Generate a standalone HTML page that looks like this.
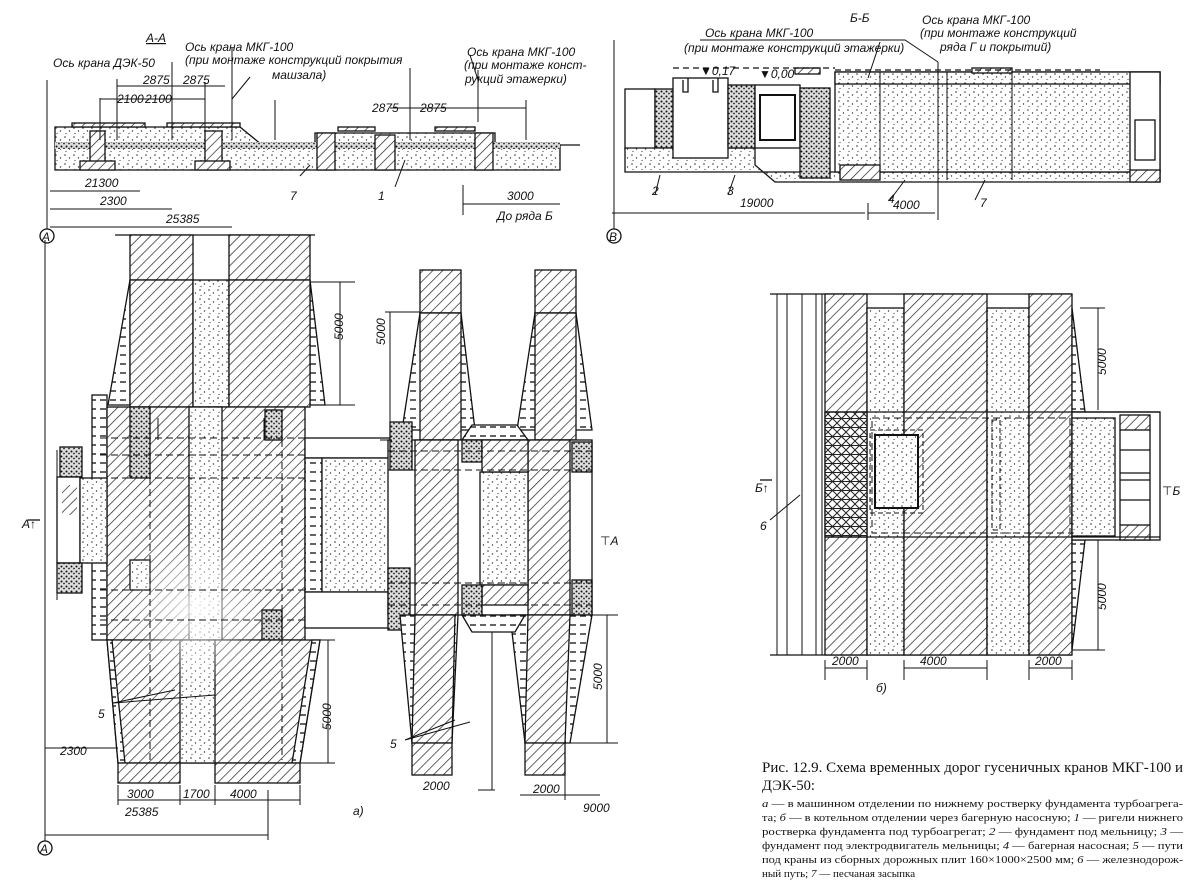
<!DOCTYPE html>
<html><head><meta charset="utf-8">
<style>
html,body{margin:0;padding:0;background:#fff;}
svg{display:block;}
.l{font-family:"Liberation Sans","DejaVu Sans",sans-serif;font-style:italic;font-size:12px;fill:#111;stroke:none;}
.c{font-family:"Liberation Serif","DejaVu Serif",serif;fill:#111;stroke:none;}
</style></head><body>
<svg width="1193" height="881" viewBox="0 0 1193 881" xmlns="http://www.w3.org/2000/svg">
<defs>
<pattern id="h" width="7" height="7" patternUnits="userSpaceOnUse" patternTransform="rotate(45)">
<rect width="7" height="7" fill="#fff"/><line x1="0" y1="0" x2="0" y2="7" stroke="#222" stroke-width="1.4"/></pattern>
<pattern id="d" width="9" height="9" patternUnits="userSpaceOnUse">
<rect width="9" height="9" fill="#fff"/><circle cx="2" cy="2" r=".8" fill="#333"/><circle cx="6.5" cy="5" r=".7" fill="#333"/><circle cx="3" cy="7.5" r=".6" fill="#444"/></pattern>
<pattern id="dd" width="5" height="5" patternUnits="userSpaceOnUse">
<rect width="5" height="5" fill="#ddd"/><circle cx="1.5" cy="1.5" r="1" fill="#111"/><circle cx="4" cy="3.5" r=".9" fill="#222"/></pattern>
<pattern id="x" width="9" height="9" patternUnits="userSpaceOnUse">
<rect width="9" height="9" fill="#fff"/><path d="M0 0L9 9M9 0L0 9M0 4.5H9" stroke="#222" stroke-width="1"/></pattern>
<pattern id="t" width="10" height="9" patternUnits="userSpaceOnUse">
<rect width="10" height="9" fill="#fff"/><line x1="0" y1="4" x2="6" y2="4" stroke="#222" stroke-width="1.4"/></pattern>
<radialGradient id="fade"><stop offset="0" stop-color="#fff" stop-opacity=".85"/><stop offset="1" stop-color="#fff" stop-opacity="0"/></radialGradient>
</defs>
<g stroke="#111" stroke-width="1.3">

<!-- ===== Section A-A ===== -->
<path d="M55 127H240L262 145H315V133H495V145H560V170H55Z" fill="url(#d)"/>
<rect x="55" y="142" width="505" height="7" fill="url(#dd)" stroke="none"/>
<g fill="url(#h)">
<rect x="90" y="131" width="15" height="34"/><rect x="205" y="131" width="17" height="34"/>
<rect x="317" y="133" width="18" height="37"/><rect x="375" y="135" width="20" height="35"/><rect x="475" y="133" width="18" height="37"/>
<rect x="80" y="161" width="35" height="9"/><rect x="195" y="161" width="35" height="9"/>
<rect x="72" y="123" width="73" height="4"/><rect x="167" y="123" width="73" height="4"/>
<rect x="338" y="127" width="37" height="4"/><rect x="435" y="127" width="40" height="4"/>
</g>
<path d="M560 145H580" />
<g fill="none" stroke-width="1">
<path d="M47 80V240M172 140V62M205 140V82M232 140V48M275 140V100M100 140V98M117 140V85M478 122V70M410 140V68M526 140V100"/>
<path d="M117 86H225M100 99H172M172 99H205M117 79V90"/>
<path d="M390 108H478M478 108H526"/>
<path d="M50 191H140M50 209H172M50 227H232M463 204H560M463 185V215"/>
<path d="M250 77L232 99M470 55L478 80"/>
<path d="M300 176L310 165M395 187L405 160"/>
</g>
<text x="146" y="42" class="l" font-size="14" text-decoration="underline">А-А</text>
<text x="53" y="67" class="l" font-size="12">Ось крана  ДЭК-50</text>
<text x="185" y="51" class="l">Ось крана  МКГ-100</text>
<text x="185" y="64" class="l">(при монтаже конструкций покрытия</text>
<text x="272" y="79" class="l">машзала)</text>
<text x="467" y="56" class="l">Ось крана  МКГ-100</text>
<text x="464" y="69" class="l">(при монтаже конст-</text>
<text x="465" y="83" class="l">рукций этажерки)</text>
<text x="143" y="84" class="l">2875</text><text x="183" y="84" class="l">2875</text>
<text x="117" y="103" class="l">2100</text><text x="145" y="103" class="l">2100</text>
<text x="372" y="112" class="l">2875</text><text x="420" y="112" class="l">2875</text>
<text x="85" y="187" class="l">21300</text><text x="100" y="205" class="l">2300</text><text x="166" y="223" class="l">25385</text>
<text x="290" y="200" class="l" font-size="14">7</text><text x="378" y="200" class="l" font-size="14">1</text>
<text x="507" y="200" class="l">3000</text><text x="497" y="220" class="l">До ряда  Б</text>
<circle cx="47" cy="236" r="7" fill="#fff"/><text x="42" y="241" class="l" font-size="11">А</text>

<!-- ===== Section Б-Б ===== -->
<rect x="625" y="89" width="30" height="60" fill="#fff"/>
<rect x="655" y="89" width="18" height="59" fill="url(#dd)"/>
<path d="M625 148H755V165L775 182H1160V172H625Z" fill="url(#d)"/>
<rect x="673" y="78" width="55" height="80" fill="#fff"/>
<path d="M683 80V92H688V78M718 78V92H713V80" fill="none"/>
<rect x="728" y="85" width="27" height="63" fill="url(#dd)"/>
<rect x="755" y="85" width="45" height="63" fill="#fff"/>
<rect x="760" y="95" width="35" height="45" fill="#fff" stroke-width="2"/>
<rect x="800" y="88" width="30" height="90" fill="url(#dd)"/>
<rect x="835" y="72" width="325" height="100" fill="url(#d)"/>
<rect x="835" y="72" width="325" height="12" fill="url(#d)"/>
<rect x="1130" y="72" width="30" height="100" fill="#fff"/>
<rect x="1135" y="120" width="20" height="40" fill="#fff"/>
<rect x="840" y="165" width="40" height="15" fill="url(#h)"/>
<rect x="1130" y="170" width="30" height="12" fill="url(#h)"/>
<path d="M880 72V180M947 72V180M1012 72V180" fill="none" stroke-width="1"/>
<rect x="795" y="68" width="25" height="6" fill="url(#h)"/><rect x="972" y="68" width="40" height="5" fill="url(#h)"/>
<path d="M673 68H835M835 70H1100" fill="none" stroke-dasharray="6 4"/>
<g fill="none" stroke-width="1">
<path d="M614 40V240M612 213H865M868 213H935M868 203V220M938 62V220M868 40H905L938 62"/>
<path d="M700 40H880M880 42L868 78M655 195L660 175M728 195L735 175M890 200L905 180M975 200L985 180"/>
<path d="M793 40H830"/>
</g>
<text x="850" y="22" class="l" font-size="14">Б-Б</text>
<text x="705" y="37" class="l">Ось крана  МКГ-100</text>
<text x="684" y="52" class="l">(при монтаже конструкций этажерки)</text>
<text x="922" y="24" class="l">Ось крана  МКГ-100</text>
<text x="920" y="37" class="l">(при монтаже конструкций</text>
<text x="940" y="51" class="l">ряда Г и покрытий)</text>
<text x="700" y="75" class="l" font-size="10">▼0,17</text><text x="759" y="78" class="l" font-size="10">▼0,00</text>
<text x="652" y="195" class="l" font-size="14">2</text><text x="727" y="195" class="l" font-size="14">3</text>
<text x="888" y="203" class="l" font-size="14">4</text><text x="980" y="207" class="l" font-size="14">7</text>
<text x="740" y="207" class="l">19000</text><text x="893" y="209" class="l">4000</text>
<circle cx="614" cy="236" r="7" fill="#fff"/><text x="609" y="241" class="l" font-size="11">В</text>

<!-- ===== Plan a) left ===== -->
<path d="M115 235H315" fill="none"/>
<rect x="130" y="235" width="63" height="45" fill="url(#h)"/>
<rect x="229" y="235" width="81" height="45" fill="url(#h)"/>
<path d="M130 280L108 405H130Z" fill="url(#t)"/>
<path d="M310 280L325 405H310Z" fill="url(#t)"/>
<rect x="130" y="280" width="63" height="127" fill="url(#h)"/>
<rect x="193" y="280" width="36" height="127" fill="url(#d)"/>
<rect x="229" y="280" width="81" height="127" fill="url(#h)"/>
<rect x="92" y="395" width="15" height="245" fill="url(#t)"/>
<rect x="107" y="407" width="198" height="233" fill="url(#h)"/>
<rect x="189" y="407" width="33" height="233" fill="url(#d)"/>
<rect x="130" y="407" width="20" height="71" fill="url(#dd)"/>
<rect x="265" y="410" width="17" height="30" fill="url(#dd)"/>
<rect x="262" y="610" width="20" height="30" fill="url(#dd)"/>
<rect x="130" y="560" width="20" height="30" fill="url(#d)"/>
<rect x="60" y="447" width="22" height="30" fill="url(#dd)"/>
<rect x="57" y="477" width="23" height="86" fill="#fff"/>
<rect x="62" y="485" width="15" height="30" fill="url(#h)" stroke="none"/>
<rect x="80" y="478" width="27" height="85" fill="url(#d)"/>
<rect x="57" y="563" width="25" height="30" fill="url(#dd)"/>
<rect x="305" y="438" width="87" height="20" fill="#fff"/>
<rect x="305" y="458" width="17" height="134" fill="url(#t)"/>
<rect x="322" y="458" width="68" height="134" fill="url(#d)"/>
<rect x="305" y="592" width="87" height="36" fill="#fff"/>
<path d="M107 640H320L300 763H118Z" fill="url(#h)"/>
<path d="M107 640L118 763H125L112 640Z" fill="url(#t)"/>
<path d="M320 640L300 763H292L312 640Z" fill="url(#t)"/>
<rect x="180" y="640" width="35" height="123" fill="url(#d)"/>
<rect x="118" y="763" width="62" height="20" fill="url(#h)"/>
<rect x="215" y="763" width="85" height="20" fill="url(#h)"/>
<ellipse cx="195" cy="610" rx="70" ry="80" fill="url(#fade)" stroke="none"/>
<g fill="none" stroke-width="1" stroke-dasharray="7 4">
<path d="M100 438H305M100 455H305M100 478H305M100 590H305M100 620H305M150 478V760M282 440V760"/>
</g>
<g fill="none" stroke-width="1">
<path d="M310 282H355M340 282V405M310 405H355M45 240V845M45 748H118M45 835H268M118 785V805M180 785V805M215 785V805M300 785V805M118 800H300M268 790V840"/>
<path d="M320 640H335M328 640V763M300 763H335"/>
<path d="M113 703L175 690M113 703L215 695M57 450V600"/>
<path d="M158 440V418M264 440V418"/>
</g>
<text x="343" y="340" class="l" transform="rotate(-90 343 340)" font-size="12">5000</text>
<text x="331" y="730" class="l" transform="rotate(-90 331 730)">5000</text>
<text x="98" y="718" class="l" font-size="13">5</text>
<text x="60" y="755" class="l">2300</text>
<text x="127" y="798" class="l">3000</text><text x="183" y="798" class="l">1700</text><text x="230" y="798" class="l">4000</text>
<text x="125" y="816" class="l">25385</text>
<text x="353" y="815" class="l" font-size="14">а)</text>
<text x="22" y="528" class="l" font-size="13">А↑</text><path d="M28 520H40" fill="none"/>
<circle cx="45" cy="848" r="7" fill="#fff"/><text x="40" y="853" class="l" font-size="11">А</text>

<!-- ===== Plan a) right complex ===== -->
<rect x="420" y="270" width="41" height="43" fill="url(#h)"/>
<rect x="535" y="270" width="41" height="43" fill="url(#h)"/>
<path d="M420 313L402 430H475L461 313Z" fill="url(#t)"/>
<path d="M535 313L517 430H592L576 313Z" fill="url(#t)"/>
<rect x="420" y="313" width="41" height="127" fill="url(#h)"/>
<rect x="535" y="313" width="41" height="127" fill="url(#h)"/>
<path d="M472 425H517L528 440H462Z" fill="url(#t)"/>
<rect x="388" y="440" width="204" height="175" fill="#fff"/>
<rect x="415" y="440" width="43" height="175" fill="url(#h)"/>
<rect x="528" y="440" width="42" height="175" fill="url(#h)"/>
<rect x="480" y="472" width="48" height="113" fill="url(#d)"/>
<rect x="462" y="440" width="20" height="22" fill="url(#dd)"/>
<rect x="482" y="440" width="46" height="32" fill="url(#h)"/>
<rect x="482" y="585" width="46" height="20" fill="url(#h)"/>
<rect x="462" y="585" width="20" height="30" fill="url(#dd)"/>
<rect x="390" y="422" width="22" height="48" fill="url(#dd)"/>
<rect x="388" y="568" width="22" height="62" fill="url(#dd)"/>
<rect x="572" y="442" width="20" height="30" fill="url(#dd)"/>
<rect x="572" y="580" width="20" height="35" fill="url(#dd)"/>
<path d="M400 615L412 743H452L458 615Z" fill="url(#t)"/>
<path d="M415 615L412 743H452L455 615Z" fill="url(#h)"/>
<path d="M510 615L525 743H570L592 615Z" fill="url(#t)"/>
<path d="M528 615L525 743H565L570 615Z" fill="url(#h)"/>
<path d="M462 615H525L515 632H472Z" fill="url(#t)"/>
<rect x="412" y="743" width="40" height="32" fill="url(#h)"/>
<rect x="525" y="743" width="40" height="32" fill="url(#h)"/>
<g fill="none" stroke-width="1" stroke-dasharray="7 4"><path d="M388 451H592M388 470H592M388 583H592M388 605H592"/></g>
<g fill="none" stroke-width="1">
<path d="M385 312H420M390 312V438M380 440H392M580 615H618M607 615V743M565 743H618M492 632V790M478 790H495M565 775V800M520 795H600M405 740L470 722M405 740L455 720"/>
</g>
<text x="385" y="345" class="l" transform="rotate(-90 385 345)">5000</text>
<text x="602" y="690" class="l" transform="rotate(-90 602 690)">5000</text>
<text x="390" y="748" class="l" font-size="13">5</text>
<text x="423" y="790" class="l">2000</text><text x="533" y="793" class="l">2000</text><text x="583" y="812" class="l">9000</text>
<text x="600" y="545" class="l" font-size="13">⊤A</text>

<!-- ===== Plan б) ===== -->
<path d="M770 294H1072M770 655H1072" fill="none"/>
<path d="M777 294V655M787 294V655M802 294V655M816 294V655M822 294V655" fill="none" stroke-width="1"/>
<rect x="825" y="294" width="42" height="361" fill="url(#h)"/>
<rect x="867" y="308" width="37" height="347" fill="url(#d)"/>
<rect x="904" y="294" width="83" height="361" fill="url(#h)"/>
<rect x="987" y="308" width="42" height="347" fill="url(#d)"/>
<rect x="1029" y="294" width="43" height="361" fill="url(#h)"/>
<path d="M1072 308L1085 412H1072ZM1072 540L1085 540L1072 650Z" fill="url(#t)"/>
<rect x="825" y="412" width="42" height="125" fill="url(#x)"/>
<rect x="1072" y="412" width="88" height="128" fill="#fff"/>
<rect x="1072" y="418" width="43" height="118" fill="url(#d)"/>
<rect x="1120" y="415" width="30" height="15" fill="url(#h)"/>
<rect x="1120" y="525" width="30" height="15" fill="url(#h)"/>
<path d="M1120 430V525M1150 430V525M1120 450H1150M1120 473H1150M1120 480H1150M1120 500H1150" fill="none"/>
<path d="M825 412H1160M825 537H1160" fill="none"/>
<rect x="872" y="418" width="198" height="115" fill="none" stroke-dasharray="7 4" stroke-width="1"/>
<rect x="875" y="435" width="43" height="73" fill="url(#d)" stroke-width="2"/>
<rect x="870" y="430" width="53" height="83" fill="none" stroke-dasharray="5 3" stroke-width="1"/>
<rect x="992" y="420" width="8" height="110" fill="none" stroke-dasharray="5 3" stroke-width="1"/>
<g fill="none" stroke-width="1">
<path d="M1080 308H1105M1098 308V410M1080 540H1105M1098 540V650M1072 650H1105M825 660V680M867 660V680M904 660V680M987 660V680M1029 660V680M1072 660V680M825 668H867M904 668H987M1029 668H1072"/>
<path d="M770 520L800 495"/>
</g>
<text x="1106" y="375" class="l" transform="rotate(-90 1106 375)">5000</text>
<text x="1106" y="610" class="l" transform="rotate(-90 1106 610)">5000</text>
<text x="832" y="665" class="l">2000</text><text x="920" y="665" class="l">4000</text><text x="1035" y="665" class="l">2000</text>
<text x="876" y="692" class="l" font-size="13">б)</text>
<text x="760" y="530" class="l" font-size="12">6</text>
<text x="755" y="492" class="l" font-size="13">Б↑</text><path d="M760 480H772" fill="none"/>
<text x="1162" y="495" class="l" font-size="13">⊤Б</text>
</g>

<!-- ===== Caption ===== -->
<text x="762" y="772" class="c" font-size="14.5" textLength="421" lengthAdjust="spacingAndGlyphs">Рис. 12.9. Схема временных дорог гусеничных кранов МКГ-100 и</text>
<text x="762" y="790" class="c" font-size="14.5">ДЭК-50:</text>
<g class="c" font-size="11">
<text x="762" y="807" class="c" textLength="421" lengthAdjust="spacingAndGlyphs"><tspan font-style="italic">а</tspan> — в машинном отделении по нижнему ростверку фундамента турбоагрега-</text>
<text x="762" y="821" class="c" textLength="421" lengthAdjust="spacingAndGlyphs">та; <tspan font-style="italic">б</tspan> — в котельном отделении через багерную насосную; <tspan font-style="italic">1</tspan> — ригели нижнего</text>
<text x="762" y="835" class="c" textLength="421" lengthAdjust="spacingAndGlyphs">ростверка фундамента под турбоагрегат; <tspan font-style="italic">2</tspan> — фундамент под мельницу; <tspan font-style="italic">3</tspan> —</text>
<text x="762" y="849" class="c" textLength="421" lengthAdjust="spacingAndGlyphs">фундамент под электродвигатель мельницы; <tspan font-style="italic">4</tspan> — багерная насосная; <tspan font-style="italic">5</tspan> — пути</text>
<text x="762" y="863" class="c" textLength="421" lengthAdjust="spacingAndGlyphs">под краны из сборных дорожных плит 160×1000×2500 мм; <tspan font-style="italic">6</tspan> — железнодорож-</text>
<text x="762" y="877" class="c">ный путь; <tspan font-style="italic">7</tspan> — песчаная засыпка</text>
</g>
</svg>
</body></html>
